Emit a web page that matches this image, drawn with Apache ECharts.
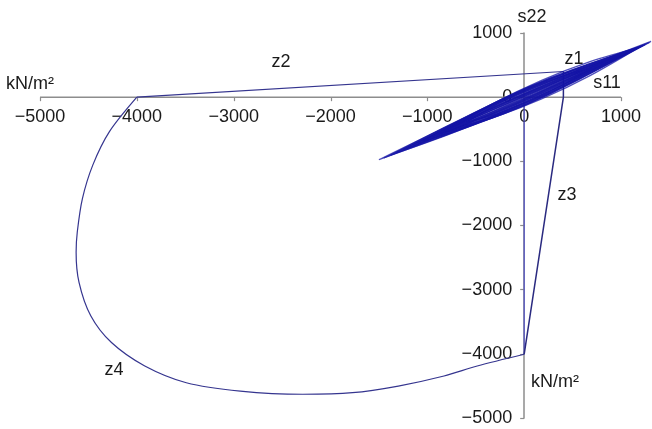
<!DOCTYPE html>
<html>
<head>
<meta charset="utf-8">
<script src="https://cdn.jsdelivr.net/npm/echarts@6/dist/echarts.min.js"></script>
<style>
  html, body { margin: 0; padding: 0; background: #ffffff; }
  #chart { width: 652px; height: 429px; }
</style>
</head>
<body>
<div id="chart"></div>
<script>
// Stress path in the s11–s22 plane (kN/m²): cyclic stage z1, then stages z2–z4.

const xTicks = [-5000, -4000, -3000, -2000, -1000, 0, 1000];
const yTicks = [-5000, -4000, -3000, -2000, -1000, 0, 1000];

// z1: cyclic loops around the origin, each listed as a closed [s11, s22] path
const z1LoopA = [[-1500, -975], [-798, -462], [-95, 18], [608, 458], [1310, 870], [608, 338], [-95, -142], [-798, -582], [-1500, -975]];
const z1LoopB = [[-1250, -818], [-638, -335], [-25, 94], [588, 467], [1200, 785], [588, 303], [-25, -126], [-638, -499], [-1250, -818]];
const z1LoopC = [[-1050, -687], [-513, -241], [25, 141], [563, 462], [1100, 720], [563, 274], [25, -109], [-513, -429], [-1050, -687]];
const z1LoopD = [[-900, -589], [-430, -183], [40, 156], [510, 432], [980, 641], [510, 236], [40, -104], [-430, -379], [-900, -589]];
const z1LoopE = [[-760, -497], [-358, -144], [45, 149], [448, 383], [850, 556], [448, 203], [45, -91], [-358, -324], [-760, -497]];
const z1LoopF = [[-600, -392], [-275, -105], [50, 133], [375, 320], [700, 458], [375, 170], [50, -67], [-275, -255], [-600, -392]];
const z1LoopG = [[-1380, -903], [-785, -442], [-190, -29], [405, 336], [1000, 654], [405, 194], [-190, -219], [-785, -584], [-1380, -903]];
const z1LoopH = [[-1150, -752], [-550, -285], [50, 133], [650, 500], [1250, 818], [650, 350], [50, -67], [-550, -435], [-1150, -752]];
const z1LoopI = [[-1450, -948], [-765, -470], [-80, -12], [605, 426], [1290, 850], [605, 366], [-80, -92], [-765, -530], [-1450, -948]];
const z1LoopJ = [[-1320, -863], [-703, -415], [-85, 4], [533, 394], [1150, 752], [533, 304], [-85, -116], [-703, -505], [-1320, -863]];
const z1LoopK = [[-1100, -719], [-563, -308], [-25, 64], [513, 395], [1050, 687], [513, 275], [-25, -96], [-563, -428], [-1100, -719]];
const z1LoopL = [[-950, -621], [-488, -281], [-25, 34], [438, 324], [900, 589], [438, 248], [-25, -66], [-488, -357], [-950, -621]];
const z1LoopM = [[-820, -536], [-320, -100], [180, 263], [680, 554], [1180, 772], [680, 336], [180, -27], [-320, -318], [-820, -536]];
const z1LoopN = [[-1000, -654], [-560, -340], [-120, -43], [320, 235], [760, 497], [320, 183], [-120, -113], [-560, -392], [-1000, -654]];
const z1LoopO = [[-1200, -785], [-625, -398], [-50, -18], [525, 354], [1100, 720], [525, 332], [-50, -48], [-625, -420], [-1200, -785]];
const z1LoopP = [[-850, -556], [-388, -235], [75, 74], [538, 371], [1000, 654], [538, 333], [75, 24], [-388, -273], [-850, -556]];
const z1LoopQ = [[-1050, -687], [-483, -271], [85, 106], [653, 472], [1220, 798], [653, 442], [85, 66], [-483, -301], [-1050, -687]];
const z1LoopR = [[-700, -458], [-300, -204], [100, 65], [500, 319], [900, 589], [500, 275], [100, 5], [-300, -248], [-700, -458]];
const z1Loops = [z1LoopA, z1LoopB, z1LoopC, z1LoopD, z1LoopE, z1LoopF, z1LoopG, z1LoopH, z1LoopI,
                 z1LoopJ, z1LoopK, z1LoopL, z1LoopM, z1LoopN, z1LoopO, z1LoopP, z1LoopQ, z1LoopR];

// z2: from the end of z1 across to the s11 axis
const z2Path = [[405, 400], [-4000, 0]];

// z4: curved path from s11 = -4000 round to s22 = -4000
const z4Path = [
  [-4000, 0], [-4283, -537], [-4455, -1059], [-4562, -1581], [-4615, -2102],
  [-4627, -2415], [-4597, -2885], [-4476, -3406], [-4262, -3824], [-3918, -4189],
  [-3489, -4450], [-2931, -4580], [-2288, -4630], [-1773, -4606], [-1300, -4502],
  [-828, -4345], [-485, -4189], [0, -4006]
];

// z3: back up to the s11 axis and on to the start of z2
const z3Path = [[0, -4006], [405, 0], [405, 400]];

// vertical leg along s11 = 0
const verticalLeg = [[0, -120], [0, -4006]];

const FONT = "'Liberation Sans', Arial, Helvetica, sans-serif";
const TEXT_COLOR = '#1a1a1a';
const AXIS_COLOR = '#8d8d8d';
const PATH_COLOR = '#35358f';
const LOOP_COLOR = 'rgba(20, 20, 165, 0.75)';

const W = 652, H = 429;
// the plotting area runs past the last s11 tick so the z1 loops reach the right edge
const X_EDGE = 1320;
const GRID = { left: 40, right: 0, top: 33, bottom: 11 };
const xMin = xTicks[0];
const yMin = yTicks[0], yMax = yTicks[yTicks.length - 1];

// the s22 axis crosses s11 at zero: shift it from the grid edge to s11 = 0
const gridW = W - GRID.left - GRID.right;
const gridH = H - GRID.top - GRID.bottom;
const yAxisOffset = -((0 - xMin) / (X_EDGE - xMin)) * gridW;
const xAxisOffset = -((0 - yMin) / (yMax - yMin)) * gridH;

const fmt = v => String(v).replace('-', '\u2212');

const loopSeries = z1Loops.map(loop => ({
  type: 'line',
  data: loop,
  smooth: 0.35,
  showSymbol: false,
  clip: false,
  silent: true,
  lineStyle: { color: LOOP_COLOR, width: 1.3 }
}));

function pathSeries(data, color, width, smooth) {
  return {
    type: 'line',
    data: data,
    smooth: smooth,
    showSymbol: false,
    clip: false,
    silent: true,
    lineStyle: { color: color, width: width }
  };
}

function label(text, x, y) {
  return {
    type: 'text',
    x: x, y: y,
    style: {
      text: text,
      fill: TEXT_COLOR,
      font: '18px ' + FONT,
      align: 'center',
      verticalAlign: 'middle'
    }
  };
}

const chart = echarts.init(document.getElementById('chart'), null, { renderer: 'canvas' });

const textLabels = [
  label('s22', 532, 17),
  label('z1', 574, 59),
  label('s11', 607, 83),
  label('z2', 281, 62),
  label('kN/m\u00B2', 30, 84),
  label('z3', 567, 195),
  label('kN/m\u00B2', 555, 382),
  label('z4', 114, 370)
];

chart.setOption({
  backgroundColor: '#ffffff',
  animation: false,
  grid: {
    left: GRID.left, right: GRID.right, top: GRID.top, bottom: GRID.bottom,
    containLabel: false,
    outerBoundsMode: 'none'
  },
  xAxis: {
    type: 'value',
    position: 'bottom',
    offset: xAxisOffset,
    min: xMin,
    max: X_EDGE,
    axisLine: { show: false },
    axisTick: { show: false },
    axisLabel: { customValues: xTicks, color: TEXT_COLOR, fontSize: 18, fontFamily: FONT, margin: 11, formatter: fmt },
    splitLine: { show: false }
  },
  yAxis: {
    type: 'value',
    position: 'left',
    offset: yAxisOffset,
    min: yMin,
    max: yMax,
    interval: 1000,
    axisLine: { show: true, onZero: false, lineStyle: { color: AXIS_COLOR, width: 1.5 } },
    axisTick: { show: true, inside: false, length: 4, lineStyle: { color: AXIS_COLOR, width: 1.2 } },
    axisLabel: { color: TEXT_COLOR, fontSize: 18, fontFamily: FONT, margin: 12, formatter: fmt },
    splitLine: { show: false }
  },
  series: [
    pathSeries(verticalLeg, 'rgba(70, 70, 200, 0.85)', 1.3, false),
    pathSeries(z2Path, PATH_COLOR, 1.2, false),
    pathSeries(z4Path, PATH_COLOR, 1.2, 0.3),
    pathSeries(z3Path, '#2a2a80', 1.5, false),
    ...loopSeries
  ],
  graphic: textLabels
});

// s11 axis line and its ticks, from the first to the last tick value, placed through the axis scale
const toPx = v => chart.convertToPixel({ gridIndex: 0 }, v);
const p0 = toPx([xTicks[0], 0]);
const p1 = toPx([xTicks[xTicks.length - 1], 0]);
const axisParts = [{
  type: 'line',
  z: 1,
  shape: { x1: p0[0], y1: p0[1], x2: p1[0], y2: p1[1] },
  style: { stroke: AXIS_COLOR, lineWidth: 1.5 }
}].concat(xTicks.map(v => {
  const p = toPx([v, 0]);
  const x = Math.round(p[0]) + 0.5;
  return {
    type: 'line',
    z: 1,
    shape: { x1: x, y1: p[1], x2: x, y2: p[1] + 4 },
    style: { stroke: AXIS_COLOR, lineWidth: 1.2 }
  };
}));

chart.setOption({ graphic: textLabels.concat(axisParts) });
</script>
</body>
</html>
